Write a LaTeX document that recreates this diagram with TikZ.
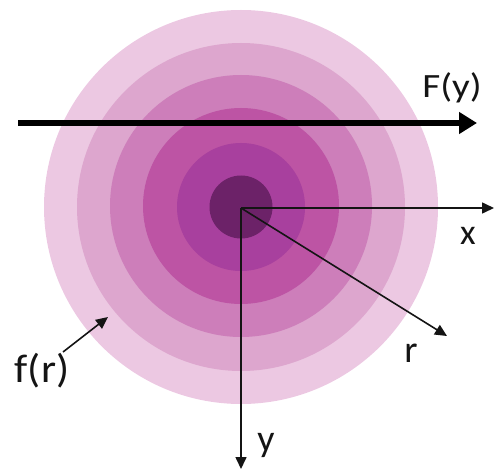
\documentclass[tikz,border=0pt]{standalone}
\usepackage{fontspec}
\setmainfont{Carlito}
\usetikzlibrary{arrows.meta}
\definecolor{c1}{RGB}{236,200,226}
\definecolor{c2}{RGB}{221,166,206}
\definecolor{c3}{RGB}{205,126,186}
\definecolor{c4}{RGB}{189,84,164}
\definecolor{c5}{RGB}{168,64,158}
\definecolor{c6}{RGB}{108,34,104}
\definecolor{ink}{RGB}{20,20,20}
\tikzset{
  ring/.style={circle,inner sep=0pt,minimum size=#1},
  axis/.style={line width=1.6pt,draw=ink,-{Triangle[length=12pt,width=11pt]}},
  thickarrow/.style={line width=6pt,-{Triangle[length=18pt,width=21pt]}},
  lbl/.style={inner sep=0pt,text=ink}
}
\begin{document}
\begin{tikzpicture}[x=1pt,y=-1pt]
\useasboundingbox (0,0) rectangle (494,470);
\node[ring=394pt,fill=c1] (r1) at (241,207) {};
\node[ring=328pt,fill=c2] (r2) at (241,207) {};
\node[ring=262pt,fill=c3] (r3) at (241,206) {};
\node[ring=196pt,fill=c4] (r4) at (241,206) {};
\node[ring=128pt,fill=c5] (r5) at (241,207) {};
\node[ring=63pt,fill=c6] (r6) at (241,207) {};
\coordinate (o) at (241,208);
\coordinate (xe) at (494,208);
\coordinate (ye) at (241,469);
\coordinate (re) at (447,336);
\coordinate (fs) at (18,123);
\coordinate (fe) at (477,123);
\coordinate (fra) at (63,352);
\coordinate (frb) at (108,317);
\draw[axis] (o) -- (xe);
\draw[axis] (o) -- (ye);
\draw[axis] (o) -- (re);
\draw[thickarrow] (fs) -- (fe);
\draw[axis] (fra) -- (frb);
\node[lbl,font=\fontsize{34}{40}\selectfont,xscale=1.15] (Fy) at (452,88) {F(y)};
\node[lbl,font=\fontsize{36}{40}\selectfont] (xl) at (468,236) {x};
\node[lbl,font=\fontsize{38}{40}\selectfont] (rl) at (411,353) {r};
\node[lbl,font=\fontsize{38}{40}\selectfont] (yl) at (266,445) {y};
\node[lbl,font=\fontsize{40}{44}\selectfont,xscale=1.08] (fr) at (42,371) {f(r)};
\end{tikzpicture}
\end{document}
